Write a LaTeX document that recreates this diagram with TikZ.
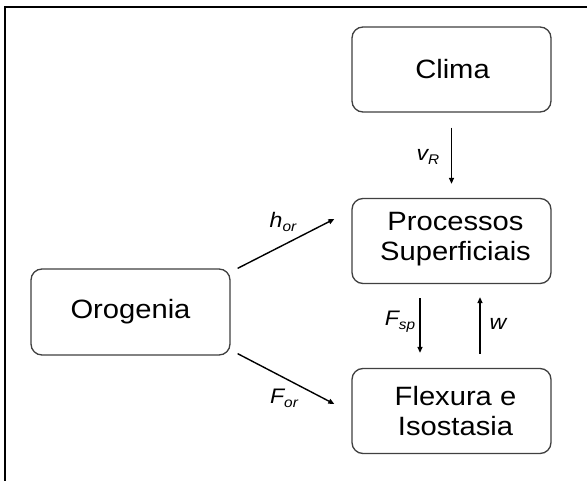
\documentclass[tikz,border=0pt]{standalone}
\usepackage{fontspec}
\setmainfont[FakeStretch=1.1]{Liberation Sans}
\usetikzlibrary{calc,arrows.meta}
\begin{document}
\begin{tikzpicture}[x=1pt,y=-1pt,
  box/.style={draw=black!75, line width=1.3pt, rounded corners=11pt,
    minimum width=199pt, minimum height=85pt, inner sep=0pt},
  boxtext/.style={align=center, inner sep=0pt,
    font=\fontsize{26.5}{29.5}\selectfont},
  arr/.style={line width=1.4pt, -{Triangle[length=6pt,width=5pt]}},
  lab/.style={inner sep=0pt, font=\fontsize{21}{24}\selectfont\itshape}
]
\useasboundingbox (0,0) rectangle (587,481);
\fill[white] (0,0) rectangle (587,481);
\draw[line width=2pt] (5,481) -- (5,7) -- (587,7);

\node[box] (clima) at (451.5,69.5) {};
\node[box] (proc)  at (451.5,241) {};
\node[box] (flex)  at (451.5,411) {};
\node[box, minimum height=86pt] (orog) at (130.5,312) {};

\node[boxtext] (climat) at ([xshift=1pt]clima.center) {Clima};
\node[boxtext] (proct) at ([xshift=4pt,yshift=2pt]proc.center) {Processos\\Superficiais};
\node[boxtext] (flext) at ([xshift=4pt]flex.center) {Flexura e\\Isostasia};
\node[boxtext] (orogt) at (orog.center) {Orogenia};

% connectors
\draw[arr] ([yshift=-15pt]clima.south) -- ([yshift=14pt]proc.north);
\draw[arr] ($(proc.south)+(-31.5,14)$) -- ($(flex.north)+(-31.5,-15)$);
\draw[arr] ($(flex.north)+(28.5,-14)$) -- ($(proc.south)+(28.5,13)$);
\draw[arr] ($(orog.north east)+(7,0)$) -- ($(proc.west)+(-17,-22)$);
\draw[arr] ($(orog.south east)+(7,-2)$) -- ($(flex.west)+(-17,-7)$);

% labels
\node[lab] (lvr) at (428,157) {v\raisebox{-4pt}{\fontsize{14}{16}\selectfont R}};
\node[lab] (lfsp) at (400,322) {F\raisebox{-4pt}{\fontsize{14}{16}\selectfont sp}};
\node[lab] (lw) at (498,324) {w};
\node[lab] (lhor) at (283,222) {h\raisebox{-4pt}{\fontsize{14}{16}\selectfont or}};
\node[lab] (lfor) at (284,398) {F\raisebox{-4pt}{\fontsize{14}{16}\selectfont or}};
\end{tikzpicture}
\end{document}
